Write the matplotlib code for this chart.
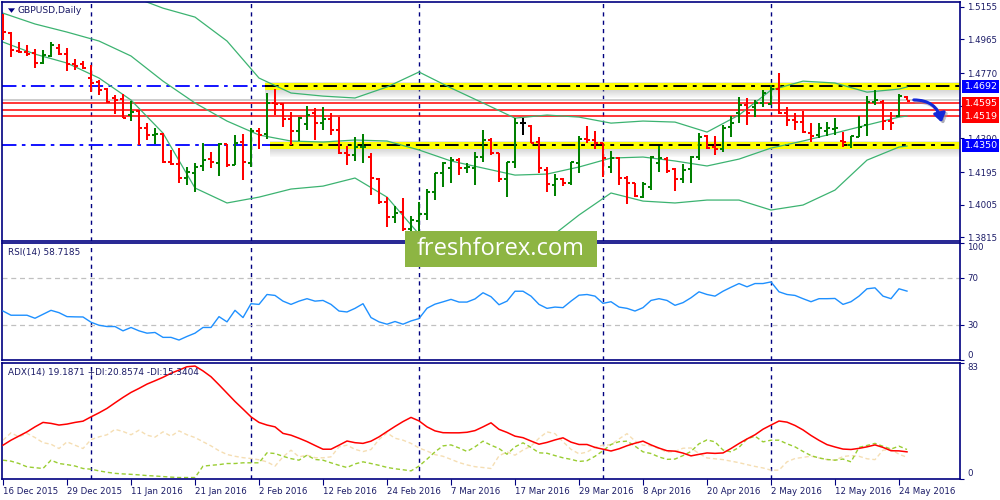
import matplotlib
matplotlib.use("Agg")
import matplotlib.pyplot as plt
from matplotlib.collections import LineCollection
from matplotlib.patches import Rectangle, FancyArrowPatch, Polygon

# ---------------- data ----------------
date_labels = ['16 Dec 2015', '29 Dec 2015', '11 Jan 2016', '21 Jan 2016', '2 Feb 2016',
               '12 Feb 2016', '24 Feb 2016', '7 Mar 2016', '17 Mar 2016', '29 Mar 2016',
               '8 Apr 2016', '20 Apr 2016', '2 May 2016', '12 May 2016', '24 May 2016']
date_bars = [0, 8, 16, 24, 32, 40, 48, 56, 64, 72, 80, 88, 96, 104, 112]
month_start_bars = [11, 31, 52, 75, 96]

opens = [1.5078, 1.5004, 1.4899, 1.4890, 1.4884, 1.4830, 1.4869, 1.4913, 1.4880, 1.4820,
         1.4820, 1.4739, 1.4718, 1.4675, 1.4626, 1.4617, 1.4526, 1.4551, 1.4449, 1.4408,
         1.4415, 1.4255, 1.4241, 1.4158, 1.4191, 1.4230, 1.4270, 1.4245, 1.4356, 1.4235,
         1.4367, 1.4245, 1.4435, 1.4415, 1.4594, 1.4588, 1.4501, 1.4433, 1.4472, 1.4536,
         1.4481, 1.4501, 1.4439, 1.4303, 1.4292, 1.4338, 1.4284, 1.4152, 1.4022, 1.3932,
         1.3962, 1.3862, 1.3912, 1.3951, 1.4078, 1.4187, 1.4216, 1.4264, 1.4216, 1.4216,
         1.4284, 1.4381, 1.4303, 1.4152, 1.4255, 1.4478, 1.4462, 1.4371, 1.4206, 1.4119,
         1.4152, 1.4129, 1.4249, 1.4385, 1.4381, 1.4361, 1.4226, 1.4274, 1.4158, 1.4129,
         1.4051, 1.4109, 1.4245, 1.4268, 1.4210, 1.4152, 1.4210, 1.4280, 1.4404, 1.4338,
         1.4327, 1.4458, 1.4539, 1.4584, 1.4571, 1.4597, 1.4590, 1.4675, 1.4539, 1.4497,
         1.4487, 1.4423, 1.4410, 1.4435, 1.4443, 1.4375, 1.4352, 1.4400, 1.4468, 1.4603,
         1.4603, 1.4493, 1.4520, 1.4632]
highs = [1.5113, 1.5010, 1.4948, 1.4933, 1.4908, 1.4904, 1.4948, 1.4938, 1.4913, 1.4849,
         1.4841, 1.4816, 1.4729, 1.4681, 1.4642, 1.4648, 1.4607, 1.4555, 1.4478, 1.4449,
         1.4423, 1.4323, 1.4336, 1.4226, 1.4249, 1.4361, 1.4309, 1.4361, 1.4357, 1.4410,
         1.4415, 1.4449, 1.4449, 1.4652, 1.4675, 1.4594, 1.4545, 1.4516, 1.4578, 1.4565,
         1.4571, 1.4536, 1.4516, 1.4346, 1.4396, 1.4415, 1.4307, 1.4158, 1.4051, 1.3997,
         1.4042, 1.3939, 1.4022, 1.4094, 1.4191, 1.4255, 1.4284, 1.4274, 1.4245, 1.4313,
         1.4439, 1.4390, 1.4307, 1.4255, 1.4507, 1.4507, 1.4468, 1.4400, 1.4226, 1.4183,
         1.4158, 1.4255, 1.4404, 1.4462, 1.4433, 1.4365, 1.4318, 1.4284, 1.4171, 1.4133,
         1.4138, 1.4288, 1.4346, 1.4280, 1.4216, 1.4241, 1.4289, 1.4419, 1.4410, 1.4404,
         1.4468, 1.4520, 1.4629, 1.4623, 1.4613, 1.4671, 1.4700, 1.4772, 1.4571, 1.4539,
         1.4549, 1.4481, 1.4478, 1.4487, 1.4507, 1.4429, 1.4404, 1.4520, 1.4636, 1.4671,
         1.4613, 1.4545, 1.4646, 1.4636]
lows = [1.4962, 1.4865, 1.4884, 1.4869, 1.4801, 1.4820, 1.4865, 1.4874, 1.4783, 1.4787,
        1.4793, 1.4661, 1.4642, 1.4597, 1.4532, 1.4507, 1.4493, 1.4350, 1.4381, 1.4357,
        1.4249, 1.4235, 1.4129, 1.4119, 1.4080, 1.4202, 1.4220, 1.4171, 1.4226, 1.4235,
        1.4148, 1.4226, 1.4327, 1.4385, 1.4526, 1.4458, 1.4352, 1.4375, 1.4439, 1.4381,
        1.4439, 1.4410, 1.4299, 1.4235, 1.4260, 1.4245, 1.4061, 1.4009, 1.3877, 1.3900,
        1.3854, 1.3846, 1.3846, 1.3916, 1.4032, 1.4109, 1.4133, 1.4177, 1.4187, 1.4119,
        1.4255, 1.4294, 1.4138, 1.4051, 1.4216, 1.4410, 1.4365, 1.4187, 1.4080, 1.4055,
        1.4113, 1.4119, 1.4191, 1.4361, 1.4327, 1.4167, 1.4191, 1.4119, 1.4009, 1.4051,
        1.4042, 1.4090, 1.4196, 1.4191, 1.4086, 1.4133, 1.4133, 1.4264, 1.4327, 1.4294,
        1.4313, 1.4400, 1.4478, 1.4468, 1.4516, 1.4574, 1.4584, 1.4532, 1.4462, 1.4439,
        1.4420, 1.4371, 1.4390, 1.4404, 1.4410, 1.4338, 1.4332, 1.4396, 1.4404, 1.4584,
        1.4439, 1.4439, 1.4513, 1.4613]
closes = [1.5008, 1.4904, 1.4894, 1.4882, 1.4830, 1.4874, 1.4933, 1.4878, 1.4822, 1.4812,
          1.4797, 1.4710, 1.4671, 1.4603, 1.4613, 1.4510, 1.4545, 1.4449, 1.4408, 1.4415,
          1.4255, 1.4241, 1.4162, 1.4193, 1.4222, 1.4264, 1.4255, 1.4357, 1.4235, 1.4361,
          1.4255, 1.4435, 1.4410, 1.4597, 1.4588, 1.4501, 1.4433, 1.4510, 1.4526, 1.4481,
          1.4501, 1.4439, 1.4303, 1.4292, 1.4338, 1.4342, 1.4158, 1.4022, 1.3932, 1.3958,
          1.3862, 1.3916, 1.3951, 1.4080, 1.4187, 1.4245, 1.4264, 1.4216, 1.4222, 1.4284,
          1.4381, 1.4303, 1.4152, 1.4255, 1.4478, 1.4478, 1.4365, 1.4216, 1.4125, 1.4152,
          1.4133, 1.4251, 1.4385, 1.4381, 1.4365, 1.4274, 1.4274, 1.4158, 1.4129, 1.4055,
          1.4123, 1.4284, 1.4278, 1.4202, 1.4152, 1.4206, 1.4280, 1.4400, 1.4332, 1.4327,
          1.4449, 1.4481, 1.4584, 1.4536, 1.4597, 1.4654, 1.4675, 1.4539, 1.4497, 1.4487,
          1.4429, 1.4404, 1.4449, 1.4449, 1.4452, 1.4367, 1.4404, 1.4458, 1.4603, 1.4613,
          1.4493, 1.4481, 1.4638, 1.4609]

band_bars = [0, 4, 8, 12, 16, 20, 24, 28, 32, 36, 40, 44, 48, 52, 56, 60, 64, 68, 72, 76,
             80, 84, 88, 92, 96, 100, 104, 108, 112, 113]
bb_upper = [1.5455, 1.5397, 1.5339, 1.5275, 1.5217, 1.5147, 1.5095, 1.4956, 1.4741, 1.4654,
            1.4636, 1.4625, 1.4689, 1.4776, 1.4683, 1.4596, 1.4508, 1.4526, 1.4514, 1.4479,
            1.4491, 1.4485, 1.4427, 1.4526, 1.4671, 1.4723, 1.4712, 1.4659, 1.4677, 1.4689]
bb_middle = [1.5118, 1.5055, 1.5008, 1.4956, 1.4869, 1.4723, 1.4596, 1.4491, 1.4410, 1.4375,
             1.4369, 1.4381, 1.4375, 1.4323, 1.4259, 1.4218, 1.4177, 1.4183, 1.4224, 1.4276,
             1.4282, 1.4259, 1.4230, 1.4270, 1.4334, 1.4375, 1.4421, 1.4468, 1.4514, 1.4520]
bb_lower = [1.4950, 1.4880, 1.4828, 1.4741, 1.4613, 1.4421, 1.4102, 1.4015, 1.4049, 1.4096,
            1.4113, 1.4160, 1.4049, 1.3834, 1.3765, 1.3741, 1.3741, 1.3800, 1.3945, 1.4073,
            1.4026, 1.4015, 1.4032, 1.4032, 1.3974, 1.4003, 1.4090, 1.4264, 1.4340, 1.4346]

rsi = [41.6, 38.0, 38.0, 38.0, 35.4, 38.8, 42.2, 40.2, 36.8, 36.6,
       36.5, 32.0, 29.4, 28.3, 28.3, 24.6, 27.5, 24.6, 22.6, 23.2,
       19.0, 19.0, 16.7, 19.8, 22.6, 27.5, 27.5, 36.8, 32.3, 42.2,
       36.0, 47.9, 47.3, 55.8, 55.0, 50.1, 47.3, 50.1, 52.2, 50.1,
       50.7, 47.3, 41.6, 40.8, 43.9, 47.9, 36.0, 32.3, 30.3, 32.6,
       30.3, 33.1, 35.1, 44.0, 47.5, 49.5, 51.6, 49.3, 49.3, 52.0,
       57.3, 53.9, 47.0, 50.1, 58.6, 58.6, 54.4, 47.3, 43.9, 45.0,
       44.5, 50.1, 55.2, 55.8, 54.4, 48.2, 49.6, 45.0, 43.9, 41.6,
       44.5, 50.7, 52.2, 50.7, 46.5, 48.8, 53.0, 58.1, 55.8, 54.4,
       58.6, 62.0, 65.2, 62.4, 65.2, 65.2, 66.6, 58.1, 55.8, 55.0,
       52.2, 49.6, 52.2, 52.2, 52.4, 47.3, 49.6, 54.4, 60.7, 61.5,
       54.4, 52.2, 60.7, 58.7]
adx = [24.0, 27.6, 30.6, 33.6, 37.2, 40.4, 39.7, 38.5, 39.2, 40.4,
       41.3, 44.4, 47.3, 50.5, 54.5, 58.4, 62.0, 64.9, 68.0, 70.4,
       72.9, 75.8, 78.1, 80.5, 81.0, 77.5, 73.3, 67.5, 61.5, 55.5,
       50.0, 44.4, 40.4, 38.5, 37.2, 32.5, 31.2, 29.0, 26.6, 23.8,
       21.1, 21.1, 24.0, 27.0, 25.8, 25.3, 26.9, 30.0, 33.8, 37.5,
       41.0, 44.0, 41.5, 37.2, 34.3, 33.0, 32.9, 32.9, 33.3, 34.5,
       37.2, 40.1, 35.4, 33.2, 30.5, 29.4, 27.0, 24.7, 26.0, 27.8,
       29.3, 26.2, 24.5, 24.5, 22.4, 21.1, 19.8, 21.4, 23.6, 25.4,
       26.9, 24.2, 21.9, 20.0, 19.7, 18.3, 16.3, 17.4, 18.4, 18.1,
       18.4, 21.6, 25.2, 28.5, 31.5, 35.5, 38.5, 41.4, 40.6, 38.2,
       35.0, 31.0, 27.5, 24.4, 22.7, 21.2, 20.9, 21.7, 22.8, 24.2,
       22.4, 20.0, 19.9, 19.2]
plus_di = [13.2, 12.5, 10.8, 8.4, 7.8, 7.2, 13.2, 10.8, 10.0, 9.0,
           7.2, 6.7, 5.5, 4.5, 3.7, 3.3, 3.0, 2.6, 2.1, 1.8,
           1.4, 1.0, 0.7, 0.7, 0.7, 8.9, 9.5, 10.0, 10.8, 10.8,
           11.3, 11.3, 11.3, 18.5, 18.0, 16.0, 14.3, 13.2, 16.8, 13.7,
           13.2, 11.3, 9.5, 7.9, 10.5, 12.0, 10.8, 9.5, 8.0, 7.0,
           6.3, 5.5, 8.9, 13.9, 19.2, 23.5, 24.2, 22.0, 19.5, 22.8,
           26.9, 24.0, 21.6, 17.5, 22.8, 25.7, 22.4, 18.5, 18.2, 16.5,
           14.9, 13.8, 12.3, 12.8, 16.0, 20.0, 24.5, 26.5, 26.9, 23.3,
           19.2, 18.0, 15.5, 13.8, 14.0, 16.5, 19.5, 25.0, 27.8, 26.4,
           20.5, 19.2, 22.4, 28.5, 30.5, 26.4, 27.6, 27.6, 25.0, 22.8,
           19.5, 16.5, 14.8, 13.7, 13.2, 14.0, 12.0, 22.4, 23.8, 25.3,
           23.2, 21.2, 23.3, 20.9]
minus_di = [27.6, 32.9, 30.0, 32.5, 29.5, 25.8, 24.7, 21.6, 26.4, 24.0,
            21.6, 28.0, 30.0, 31.5, 35.4, 33.9, 31.5, 34.8, 31.2, 29.8,
            33.6, 30.5, 34.3, 31.5, 29.5, 26.5, 23.5, 20.0, 17.3, 16.0,
            15.0, 14.4, 13.5, 12.0, 8.9, 15.6, 20.4, 15.6, 16.8, 15.0,
            14.9, 15.6, 22.8, 24.0, 21.0, 19.4, 20.9, 28.1, 32.9, 29.0,
            27.6, 25.3, 22.0, 19.8, 17.2, 16.0, 13.8, 11.5, 9.8, 8.5,
            7.9, 7.2, 16.3, 19.2, 16.8, 20.5, 23.3, 29.0, 33.6, 32.3,
            26.5, 21.0, 17.8, 19.0, 22.5, 24.0, 24.3, 28.5, 32.3, 27.0,
            24.0, 23.5, 21.5, 19.0, 19.5, 21.8, 22.0, 18.0, 14.8, 14.2,
            13.6, 12.5, 11.4, 10.0, 8.7, 7.6, 6.0, 6.0, 12.0, 14.4,
            15.2, 16.1, 14.8, 13.6, 13.2, 15.8, 16.5, 16.0, 14.2, 13.6,
            20.4, 20.9, 17.5, 15.3]

price_ticks = [1.5155, 1.4965, 1.4770, 1.4580, 1.4390, 1.4195, 1.4005, 1.3815]
covered_ticks = [1.4580]          # tick label hidden behind the red level boxes
resistance = 1.4692
support = 1.4350
hidden_red_level = 1.4557
red_levels = [1.4595, 1.4519]
last_price = 1.4613
rsi_levels = [30, 70]

title_text = 'GBPUSD,Daily'
rsi_text = 'RSI(14) 58.7185'
adx_text = 'ADX(14) 19.1871 +DI:20.8574 -DI:15.3404'
logo_text = 'freshforex.com'

# ---------------- styling ----------------
NAVY = '#000080'
TXT = '#1a1a66'
GREEN = '#008000'
RED = '#ff0000'
BAND = '#3cb371'
FS = 6.2
plt.rcParams['font.family'] = ['DejaVu Sans']

W, H = 1000, 500
fig = plt.figure(figsize=(10, 5), dpi=100)
fig.patch.set_facecolor('white')


def box(x0, y0, x1, y1):
    return [x0 / W, 1 - y1 / H, (x1 - x0) / W, (y1 - y0) / H]


ax1 = fig.add_axes(box(2, 2.3, 960, 240.5))
ax2 = fig.add_axes(box(2, 243, 960, 359.5))
ax3 = fig.add_axes(box(2, 363, 960, 478.5))

XL = (-0.125, 119.625)
for ax in (ax1, ax2, ax3):
    ax.set_xlim(*XL)
    ax.set_facecolor('white')
    for s in ax.spines.values():
        s.set_color(NAVY)
        s.set_linewidth(1.2)
    ax.yaxis.tick_right()
    ax.tick_params(axis='y', direction='out', length=3, width=0.8, colors=NAVY,
                   labelcolor=TXT, labelsize=FS, pad=2)
    ax.tick_params(axis='x', direction='out', length=4, width=0.8, colors=NAVY,
                   labelcolor=TXT, labelsize=FS, pad=2)
    for m in month_start_bars:
        ax.axvline(m, color=NAVY, lw=1.0, ls=(0, (3, 3)), zorder=1)
    ax.set_xticks([])

n = len(closes)
bars = list(range(n))

# ---------------- price panel ----------------
ax1.set_ylim(1.3797, 1.5181)
ax1.set_yticks(price_ticks)
ax1.set_yticklabels(['' if v in covered_ticks else '%.4f' % v for v in price_ticks])

ax1.axhline(last_price, color='#c8c8c8', lw=1.3, zorder=1.5)
for lv in [hidden_red_level] + red_levels:
    ax1.axhline(lv, color=RED, lw=1.1, zorder=1.6)
for lv in (resistance, support):
    ax1.axhline(lv, color='#0000ff', lw=1.3, ls=(0, (8, 3, 2, 3)), zorder=1.6)

# yellow zones with soft shadow
px = (1.5181 - 1.3797) / (240.5 - 2.3)
for lv, x0 in ((resistance, 32.75), (support, 33.4)):
    for k in range(8):
        ax1.add_patch(Rectangle((x0, lv - (3.5 + k + 1) * px), XL[1] - x0, 1.0 * px,
                                fc='#808080', ec='none', alpha=0.30 - 0.035 * k, zorder=1.7))
    ax1.add_patch(Rectangle((x0, lv + 3.5 * px), XL[1] - x0, 1.2 * px,
                            fc='#b0b0b0', ec='none', alpha=0.35, zorder=1.7))
    ax1.add_patch(Rectangle((x0, lv - 3.5 * px), XL[1] - x0, 7 * px,
                            fc='#ffff00', ec='none', zorder=1.8))
    ax1.plot([x0, XL[1]], [lv, lv], color='black', lw=1.4,
             ls=(0, (7, 3, 2, 3)), zorder=1.9)

ax1.plot(band_bars, bb_upper, color=BAND, lw=0.9, zorder=2)
ax1.plot(band_bars, bb_middle, color=BAND, lw=0.9, zorder=2)
ax1.plot(band_bars, bb_lower, color=BAND, lw=0.9, zorder=2)

segs, cols = [], []
for i in bars:
    o, h, l, c = opens[i], highs[i], lows[i], closes[i]
    col = GREEN if c > o else (RED if c < o else 'black')
    segs += [[(i, l), (i, h)], [(i - 0.38, o), (i, o)], [(i, c), (i + 0.38, c)]]
    cols += [col] * 3
ax1.add_collection(LineCollection(segs, colors=cols, linewidths=1.45, zorder=3,
                                  capstyle='butt'))

ax1.text(16 / 958, 1 - 8 / 238, title_text, transform=ax1.transAxes, fontsize=6.6,
         color=TXT, va='center', ha='left')
ax1.add_patch(Polygon([[6 / 958, 1 - 6 / 238], [13 / 958, 1 - 6 / 238], [9.5 / 958, 1 - 10.5 / 238]],
                      closed=True, transform=ax1.transAxes, fc=NAVY, ec='none'))

# price labels on the right
ytr = ax1.get_yaxis_transform()
bx0 = 1 + 2 / 958
bw = 37 / 958
# hidden middle level: only its red box shows between the two others
ax1.add_patch(Rectangle((bx0, hidden_red_level - 6.5 * px), bw, 13 * px, transform=ytr,
                        fc=RED, ec='none', clip_on=False, zorder=5))
z = 6
for lv, fc in ((red_levels[0], RED), (red_levels[1], RED),
               (resistance, '#0000ff'), (support, '#0000ff')):
    ax1.add_patch(Rectangle((bx0, lv - 6.5 * px), bw, 13 * px, transform=ytr,
                            fc=fc, ec='none', clip_on=False, zorder=z))
    ax1.text(bx0 + 3 / 958, lv, '%.4f' % lv, transform=ytr, color='white',
             fontsize=FS + 0.6, va='center', ha='left', clip_on=False, zorder=z + 1)
    z += 2

# ---------------- RSI panel ----------------
ax2.set_ylim(0, 100)
for lv in rsi_levels:
    ax2.axhline(lv, color='#c0c0c0', lw=0.9, ls=(0, (4, 3)), zorder=1)
ax2.plot(bars, rsi, color='#1e90ff', lw=1.0, zorder=3)
ax2.set_yticks([0, 30, 70, 100])
ax2.set_yticklabels(['0', '30', '70', '100'])
for t in ax2.get_yticklabels():
    if t.get_text() == '100':
        t.set_va('top')
    elif t.get_text() == '0':
        t.set_va('bottom')
ax2.text(6 / 958, 1 - 9 / 116.5, rsi_text, transform=ax2.transAxes, fontsize=6.4,
         color=TXT, va='center', ha='left')

# ---------------- ADX panel ----------------
ax3.set_ylim(0, 83.2)
ax3.plot(bars, minus_di, color='#f5deb3', lw=1.0, ls=(0, (3, 2)), zorder=2)
ax3.plot(bars, plus_di, color='#9acd32', lw=1.0, ls=(0, (3, 2)), zorder=2.1)
ax3.plot(bars, adx, color=RED, lw=1.1, zorder=3)
ax3.set_yticks([0, 83])
ax3.set_yticklabels(['0', '83'])
for t in ax3.get_yticklabels():
    t.set_va('top' if t.get_text() == '83' else 'bottom')
ax3.text(6 / 958, 1 - 9 / 115.5, adx_text, transform=ax3.transAxes, fontsize=6.4,
         color=TXT, va='center', ha='left', zorder=5)
ax3.set_xticks(date_bars)
ax3.set_xticklabels(date_labels, ha='left')

# ---------------- logo & arrow ----------------
fig.patches.append(Rectangle((405 / W, 1 - 267 / H), 192 / W, 36 / H,
                             transform=fig.transFigure, fc='#8db543', ec='none', zorder=10))
fig.text(501 / W, 1 - 249 / H, logo_text, color='white', fontsize=17,
         family=['Open Sans', 'DejaVu Sans'], ha='center', va='center', zorder=11)

arrow_shadow = FancyArrowPatch((913 / W, 1 - 102 / H), (944 / W, 1 - 127 / H),
                               transform=fig.transFigure, connectionstyle='arc3,rad=-0.45',
                               arrowstyle='-|>,head_length=5,head_width=3.5', lw=2.4,
                               color='#9090a0', alpha=0.5, zorder=11)
fig.patches.append(arrow_shadow)
arrow = FancyArrowPatch((911 / W, 1 - 100 / H), (942 / W, 1 - 125 / H),
                        transform=fig.transFigure, connectionstyle='arc3,rad=-0.45',
                        arrowstyle='-|>,head_length=5,head_width=3.5', lw=2.2,
                        color='#1428d8', zorder=12)
fig.patches.append(arrow)

fig.savefig('out.png', dpi=100)
